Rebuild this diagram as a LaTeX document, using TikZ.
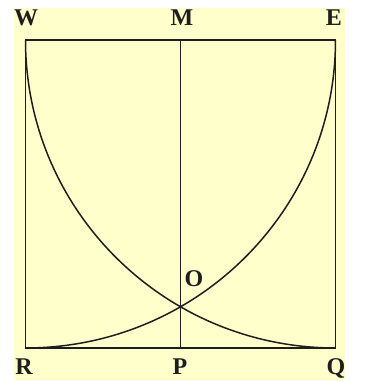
\documentclass[tikz,border=0pt]{standalone}
\usepackage{fontspec}
\setmainfont{Liberation Serif}
\definecolor{bgyellow}{RGB}{255,255,204}
\definecolor{ink}{RGB}{30,30,30}
\begin{document}
\begin{tikzpicture}[x=1pt,y=1pt,
  lbl/.style={anchor=base,inner sep=0pt,font=\fontsize{24}{24}\selectfont\bfseries,text=ink},
  ln/.style={draw=ink,line width=1.8pt}]
\useasboundingbox (0,0) rectangle (369,381);
\fill[bgyellow] (14,1) rectangle (345,373);
\coordinate (W) at (25.5,341);
\coordinate (E) at (335.5,341);
\coordinate (R) at (25.5,33);
\coordinate (Q) at (335.5,33);
\coordinate (M) at (180.5,341);
\coordinate (P) at (180.5,33);
\draw[ln] (W) -- (E) -- (Q) -- (R) -- cycle;
\draw[ln,line width=1.5pt] (M) -- (P);
\draw[ln,line width=1.5pt] (W) arc[start angle=180,end angle=270,x radius=310pt,y radius=308pt];
\draw[ln,line width=1.5pt] (E) arc[start angle=0,end angle=-90,x radius=310pt,y radius=308pt];
\node[lbl] (lW) at (26,355) {W};
\node[lbl] (lM) at (182,355) {M};
\node[lbl] (lE) at (334,355) {E};
\node[lbl] (lR) at (24,6) {R};
\node[lbl] (lP) at (180,6) {P};
\node[lbl] (lQ) at (336,6) {Q};
\node[lbl] (lO) at (194,94) {O};
\end{tikzpicture}
\end{document}
